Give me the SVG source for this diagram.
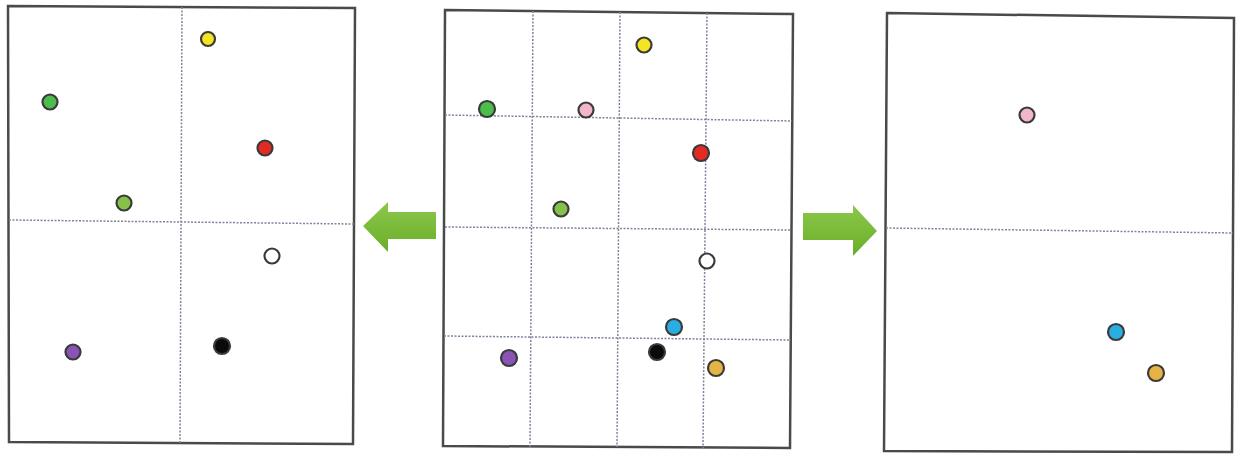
<svg xmlns="http://www.w3.org/2000/svg" width="1242" height="456" viewBox="0 0 1242 456">
<defs>
<linearGradient id="g" x1="0" y1="0" x2="0" y2="1">
<stop offset="0" stop-color="#8cc84a"/>
<stop offset="1" stop-color="#6aad2a"/>
</linearGradient>
<style>
.frame{fill:#fff;stroke:#4a4a4a;stroke-width:2.5}
.grid{stroke:#7f849c;stroke-width:1.5;stroke-dasharray:2 1.5;fill:none}
.dot{stroke:#3a3a3a;stroke-width:2.2}
.arrow{fill:url(#g)}
</style>
</defs>
<rect width="1242" height="456" fill="#fff"/>
<g id="panel-left">
<polygon class="frame" points="8,6 355,8 353,444 9,442"/>
<line class="grid" x1="182" y1="7" x2="180" y2="443"/>
<line class="grid" x1="9" y1="220" x2="354" y2="224"/>
<circle class="dot" cx="208" cy="39" r="7" fill="#f4e424"/>
<circle class="dot" cx="50" cy="102" r="7.5" fill="#4cbc4c"/>
<circle class="dot" cx="265" cy="148" r="7.5" fill="#e22b25" stroke="#b02020"/>
<circle class="dot" cx="124" cy="203" r="7.5" fill="#86c24a"/>
<circle class="dot" cx="272" cy="256" r="7.5" fill="#fff"/>
<circle class="dot" cx="73" cy="352" r="7.5" fill="#8a54b4"/>
<circle class="dot" cx="222" cy="346" r="8" fill="#0a0a0a" stroke="#0a0a0a"/>
</g>
<g id="panel-middle">
<polygon class="frame" points="445,10 793,14 790,448 443,446"/>
<line class="grid" x1="533" y1="11" x2="530" y2="447"/>
<line class="grid" x1="620" y1="12" x2="617" y2="447"/>
<line class="grid" x1="707" y1="13" x2="703" y2="448"/>
<line class="grid" x1="445" y1="115" x2="792" y2="121"/>
<line class="grid" x1="445" y1="227" x2="791" y2="230"/>
<line class="grid" x1="444" y1="336" x2="791" y2="340"/>
<circle class="dot" cx="644" cy="45" r="7.5" fill="#f4e424"/>
<circle class="dot" cx="487" cy="109" r="8" fill="#4cbc4c"/>
<circle class="dot" cx="586" cy="110" r="7.5" fill="#f2b6cc" stroke="#5a3a40"/>
<circle class="dot" cx="701" cy="153" r="8" fill="#e22b25" stroke="#b02020"/>
<circle class="dot" cx="561" cy="209" r="7.5" fill="#86c24a"/>
<circle class="dot" cx="707" cy="261" r="7.5" fill="#fff"/>
<circle class="dot" cx="674" cy="327" r="8" fill="#2aaee2"/>
<circle class="dot" cx="657" cy="352" r="8" fill="#0a0a0a" stroke="#0a0a0a"/>
<circle class="dot" cx="509" cy="358" r="8" fill="#8a54b4"/>
<circle class="dot" cx="716" cy="368" r="8" fill="#e6b444"/>
</g>
<g id="panel-right">
<polygon class="frame" points="887,13 1234,18 1232,452 884,451"/>
<line class="grid" x1="886" y1="228" x2="1233" y2="233"/>
<circle class="dot" cx="1027" cy="115" r="7.5" fill="#f2b6cc" stroke="#5a3a40"/>
<circle class="dot" cx="1116" cy="332" r="8" fill="#2aaee2"/>
<circle class="dot" cx="1156" cy="373" r="8" fill="#e6b444"/>
</g>
<g id="connectors">
<polygon class="arrow" points="436,212 388,212 388,202 363,226 388,252 388,239 436,239"/>
<polygon class="arrow" points="803,213 853,213 853,205 877,231 853,256 853,240 803,240"/>
</g>
</svg>
